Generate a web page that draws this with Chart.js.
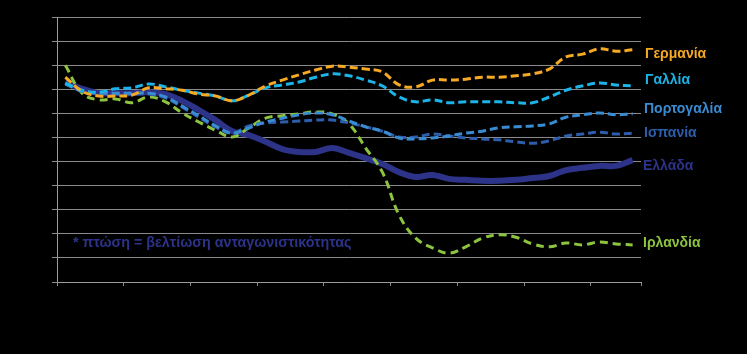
<!DOCTYPE html>
<html>
<head>
<meta charset="utf-8">
<script src="https://cdn.jsdelivr.net/npm/chart.js@4.4.1/dist/chart.umd.min.js"></script>
<style>
  html, body { margin: 0; padding: 0; background: #000; overflow: hidden; }
  #c { display: block; }
</style>
</head>
<body>
<canvas id="c" width="747" height="354"></canvas>
<script>
// Quarter positions (x axis, years marked every 4 quarters)
const quarters = Array.from({length: 35}, (_, i) => i + 0.5);
const yearTicks = [0, 4, 8, 12, 16, 20, 24, 28, 32, 35];

const germany = [102.5, 99.6, 98.6, 98.6, 98.8, 100.3, 100.1, 99.8, 99.0, 98.6, 97.6, 98.8, 100.7, 101.9, 103.0, 104.0, 104.8, 104.6, 104.2, 103.6, 100.9, 100.5, 101.9, 101.9, 102.1, 102.5, 102.5, 102.8, 103.2, 104.2, 106.7, 107.3, 108.4, 107.9, 108.2];
const france = [101.3, 99.8, 99.4, 100.1, 100.3, 101.1, 100.5, 99.8, 99.2, 98.6, 97.6, 98.8, 100.3, 100.9, 101.5, 102.5, 103.2, 102.8, 101.9, 100.7, 98.4, 97.4, 97.8, 97.2, 97.4, 97.4, 97.4, 97.2, 97.2, 98.4, 99.8, 100.7, 101.3, 100.9, 100.7];
const portugal = [101.1, 99.6, 99.2, 99.2, 99.2, 99.2, 98.4, 96.5, 94.5, 92.4, 90.9, 92.0, 93.2, 94.0, 94.7, 95.1, 94.7, 93.4, 92.2, 91.3, 89.9, 89.7, 89.9, 90.3, 90.9, 91.3, 92.0, 92.2, 92.4, 92.8, 94.2, 94.7, 95.1, 94.7, 94.9];
const spain = [101.1, 99.8, 99.2, 99.0, 99.0, 99.0, 98.2, 96.3, 94.2, 92.2, 90.9, 92.4, 93.0, 93.2, 93.4, 93.6, 93.6, 93.0, 92.2, 91.3, 90.1, 90.1, 90.7, 90.3, 89.9, 89.7, 89.5, 89.1, 88.8, 89.3, 90.3, 90.7, 91.1, 90.7, 90.9];
const greece = [101.5, 100.1, 99.2, 99.2, 99.2, 99.4, 99.0, 97.6, 95.7, 93.6, 91.3, 90.5, 89.1, 87.6, 87.0, 87.0, 87.8, 86.8, 85.7, 84.5, 82.8, 81.8, 82.2, 81.4, 81.2, 81.0, 81.0, 81.2, 81.6, 82.0, 83.2, 83.7, 84.1, 84.1, 85.3];
const ireland = [105.0, 99.2, 97.8, 98.0, 97.2, 98.4, 97.4, 95.1, 93.2, 91.5, 90.1, 92.0, 94.0, 94.5, 94.9, 95.3, 94.9, 92.8, 87.8, 82.8, 73.9, 69.1, 67.1, 66.0, 67.3, 69.1, 69.8, 69.3, 67.9, 67.3, 68.1, 67.7, 68.3, 67.9, 67.7];

const seriesNames = ['Γερμανία', 'Γαλλία', 'Πορτογαλία', 'Ισπανία', 'Ελλάδα', 'Ιρλανδία'];
const note = '* πτώση = βελτίωση ανταγωνιστικότητας';

const COL = {
  de: '#f6a925', fr: '#1db3e6', pt: '#3a8cd2', es: '#2d5dab', gr: '#2c3388', ie: '#8cc43f'
};

function pts(arr) { return arr.map((v, i) => ({x: quarters[i], y: v})); }

const labelPlugin = {
  id: 'labels',
  afterDraw(chart) {
    const ctx = chart.ctx;
    ctx.save();
    ctx.font = 'bold 14px "Liberation Sans", Arial, sans-serif';
    ctx.textBaseline = 'middle';
    ctx.textAlign = 'left';
    const items = [
      [seriesNames[0], COL.de, 645, 54],
      [seriesNames[1], COL.fr, 645, 80],
      [seriesNames[2], COL.pt, 644, 109],
      [seriesNames[3], COL.es, 644, 133],
      [seriesNames[4], COL.gr, 643, 166],
      [seriesNames[5], COL.ie, 643, 243]
    ];
    items.forEach(([t, c, x, y]) => { ctx.fillStyle = c; ctx.fillText(t, x, y); });
    ctx.fillStyle = COL.gr;
    ctx.font = 'bold 14.3px "Liberation Sans", Arial, sans-serif';
    ctx.fillText(note, 73, 243);
    ctx.restore();
  }
};

const dashed = (label, data, color, dash) => ({
  label, data: pts(data), borderColor: color, borderWidth: 3, borderDash: dash || [8, 4],
  pointRadius: 0, tension: 0.4, fill: false, order: 1
});

new Chart(document.getElementById('c'), {
  type: 'line',
  data: {
    datasets: [
      dashed(seriesNames[0], germany, COL.de),
      dashed(seriesNames[1], france, COL.fr),
      dashed(seriesNames[2], portugal, COL.pt),
      dashed(seriesNames[3], spain, COL.es),
      dashed(seriesNames[5], ireland, COL.ie, [8, 5]),
      { label: seriesNames[4], data: pts(greece), borderColor: COL.gr, borderWidth: 6,
        pointRadius: 0, tension: 0.4, fill: false, order: 2 }
    ]
  },
  options: {
    responsive: false,
    maintainAspectRatio: false,
    animation: false,
    devicePixelRatio: 1,
    layout: { padding: { top: 17, right: 106, left: 0, bottom: 0 } },
    plugins: { legend: { display: false }, tooltip: { enabled: false } },
    scales: {
      x: {
        type: 'linear', min: 0, max: 35,
        afterBuildTicks: (s) => { s.ticks = yearTicks.map(v => ({value: v})); },
        afterFit: (s) => { s.height = 72; },
        ticks: { display: false },
        grid: { drawOnChartArea: false, drawTicks: true, tickLength: 4, color: '#8c8c8c' },
        border: { display: true, color: '#9a9a9a', width: 1 }
      },
      y: {
        min: 60, max: 115,
        ticks: { display: false, stepSize: 5 },
        afterFit: (s) => { s.width = 57; },
        grid: { color: '#8a8a8a', lineWidth: 1, tickLength: 5, drawTicks: true },
        border: { display: true, color: '#9a9a9a', width: 1 }
      }
    }
  },
  plugins: [labelPlugin]
});
</script>
</body>
</html>
